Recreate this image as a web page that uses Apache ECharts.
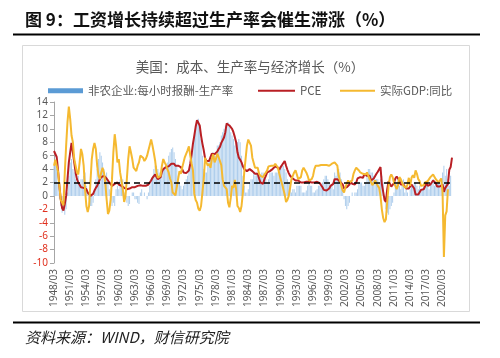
<!DOCTYPE html>
<html><head><meta charset="utf-8">
<script src="https://cdn.jsdelivr.net/npm/echarts@6/dist/echarts.min.js"></script>
<style>html,body{margin:0;padding:0;background:#fff}#c{width:500px;height:358px}</style>
</head><body><div id="c"></div>
<script>
// Quarter labels 1948/03 ... 2021/12
const startYear = 1948, endYear = 2021;
const quarterMonths = ['03', '06', '09', '12'];
const categories = [];
for (let y = startYear; y <= endYear; y++) for (const m of quarterMonths) categories.push(y + '/' + m);

const yTicks = { min: -10, max: 14, interval: 2 };

// 非农企业:每小时报酬-生产率 (quarterly, one row per year)
const ulcValues = [
  4.5, 5.0, 4.0, 2.0,
  -0.5, -1.5, -2.5, -2.0,
  -2.8, -2.0, 0.5, 3.0,
  5.0, 5.5, 4.0, 3.5,
  2.5, 2.0, 3.0, 2.0,
  2.5, 2.5, 3.0, 3.5,
  1.5, 0.5, -0.5, -1.5,
  -1.5, -1.0, 0.5, 2.5,
  4.0, 5.5, 6.5, 6.0,
  5.0, 4.0, 3.0, 3.5,
  2.5, 1.0, -1.0, -1.5,
  -1.0, -1.5, 1.0, 1.5,
  1.0, 2.5, 2.0, 2.5,
  0.5, -0.5, -1.0, -1.5,
  -1.2, 0.0, 0.5, 0.5,
  -0.5, -0.5, -1.0, -1.2,
  0.5, 1.0, 0.0, 0.5,
  0.0, -0.5, 0.5, 1.5,
  2.5, 3.0, 4.0, 4.5,
  4.5, 4.0, 3.5, 3.5,
  3.5, 4.0, 4.0, 4.5,
  5.0, 6.0, 6.5, 7.0,
  7.2, 6.5, 5.5, 4.5,
  3.0, 2.0, 1.5, 1.0,
  1.5, 2.0, 2.5, 3.0,
  4.0, 5.0, 6.5, 7.5,
  9.0, 10.0, 11.0, 11.5,
  10.5, 8.5, 6.0, 4.0,
  3.5, 3.5, 4.5, 5.5,
  6.0, 6.0, 6.5, 6.0,
  6.0, 7.5, 7.5, 8.0,
  9.0, 9.5, 10.0, 10.5,
  10.0, 11.0, 10.5, 9.5,
  9.0, 8.5, 7.5, 8.0,
  8.0, 8.5, 8.0, 6.0,
  3.0, 1.5, 0.5, 0.5,
  1.0, 2.0, 2.5, 2.5,
  3.5, 3.0, 3.5, 3.0,
  3.0, 3.0, 3.5, 3.5,
  2.5, 2.5, 2.0, 2.5,
  3.5, 3.5, 3.5, 3.0,
  3.5, 3.5, 3.5, 4.0,
  4.5, 4.5, 4.5, 4.0,
  3.5, 2.5, 2.0, 2.0,
  0.5, 1.0, 1.0, 0.5,
  1.5, 1.5, 1.5, 1.5,
  0.5, 0.5, 0.5, 0.8,
  1.5, 2.0, 1.5, 1.5,
  0.5, 0.5, 0.8, 1.0,
  1.5, 1.5, 1.5, 2.0,
  2.5, 3.0, 3.0, 2.5,
  2.0, 1.5, 1.5, 1.0,
  3.5, 3.0, 4.0, 4.0,
  3.5, 2.5, 1.5, -0.5,
  -1.5, -2.0, -1.5, -1.0,
  0.0, 0.5, 0.0, 0.5,
  0.5, 1.0, 2.0, 2.0,
  2.0, 1.5, 1.5, 2.0,
  3.0, 4.0, 4.0, 3.5,
  3.5, 3.0, 2.5, 2.5,
  2.5, 2.0, 2.5, 3.0,
  2.0, 0.0, -2.0, -2.5,
  -2.8, -2.0, -1.5, -1.0,
  0.5, 1.5, 2.0, 2.5,
  1.5, 1.0, 2.0, 2.5,
  0.5, 1.0, 0.5, 0.0,
  1.0, 1.5, 1.5, 2.0,
  2.0, 1.5, 1.0, 1.5,
  1.0, 1.0, 2.0, 1.5,
  2.0, 1.5, 1.0, 1.5,
  2.0, 2.5, 1.5, 2.0,
  2.0, 2.0, 2.0, 1.5,
  3.5, 4.5, 3.0, 4.0,
  2.5, 1.5, 3.0, null
];

// PCE (quarterly yoy)
const pceValues = [
  6.7, 6.5, 5.8, 3.8,
  1.5, -0.5, -1.8, -2.2,
  -1.2, 0.0, 2.5, 5.0,
  6.5, 7.9, 6.5, 5.0,
  3.5, 2.5, 2.0, 1.8,
  1.3, 1.3, 1.2, 1.3,
  1.0, 0.5, 0.3, 0.0,
  0.0, 0.3, 0.8, 1.2,
  1.5, 2.0, 2.5, 2.8,
  3.0, 3.0, 2.8, 2.6,
  2.5, 2.0, 1.8, 1.5,
  1.5, 1.8, 1.9, 2.0,
  1.7, 1.5, 1.5, 1.4,
  1.2, 1.0, 1.0, 1.0,
  1.1, 1.2, 1.3, 1.2,
  1.3, 1.2, 1.5, 1.6,
  1.6, 1.5, 1.5, 1.6,
  1.5, 1.7, 1.7, 1.8,
  2.3, 2.7, 2.9, 3.2,
  2.8, 2.5, 2.5, 2.8,
  3.6, 4.0, 4.2, 4.3,
  4.2, 4.4, 4.6, 4.8,
  4.9, 4.8, 4.5, 4.5,
  4.5, 4.4, 4.3, 4.0,
  3.5, 3.5, 3.4, 3.6,
  3.8, 4.8, 6.2, 7.8,
  9.0, 10.3, 11.3, 11.5,
  10.5, 9.0, 7.8, 6.8,
  5.6, 5.2, 5.0, 5.2,
  5.8, 6.3, 6.3, 6.2,
  6.2, 6.6, 7.0, 7.3,
  7.9, 8.3, 8.7, 9.5,
  10.8, 11.0, 10.5, 10.3,
  10.0, 9.5, 8.8, 8.0,
  6.5, 5.7, 5.4, 5.0,
  4.4, 4.0, 3.9, 3.7,
  3.8, 4.0, 4.0, 3.7,
  3.5, 3.3, 3.3, 3.3,
  2.6, 2.0, 1.8, 1.8,
  2.5, 3.0, 3.5, 3.7,
  3.7, 3.9, 4.0, 4.2,
  4.4, 4.6, 4.2, 3.9,
  4.3, 4.4, 4.9, 5.2,
  4.5, 3.9, 3.4, 3.0,
  2.8, 2.6, 2.4, 2.3,
  2.3, 2.3, 2.1, 2.0,
  1.9, 2.0, 2.1, 2.1,
  2.1, 2.1, 2.0, 2.0,
  2.0, 2.0, 2.0, 2.1,
  2.2, 1.9, 1.6, 1.3,
  0.9, 0.8, 0.8, 0.8,
  1.1, 1.5, 1.7, 1.8,
  2.5, 2.5, 2.5, 2.5,
  2.1, 1.9, 1.7, 1.1,
  1.1, 1.3, 1.4, 1.7,
  2.2, 1.8, 2.0, 1.7,
  2.0, 2.6, 2.6, 2.8,
  2.7, 2.7, 3.2, 3.2,
  3.0, 3.1, 3.0, 2.3,
  2.5, 2.6, 2.4, 3.3,
  3.6, 3.8, 4.3, 1.8,
  0.6, -0.6, -0.9, 1.0,
  2.2, 1.8, 1.4, 1.3,
  1.9, 2.6, 2.9, 2.7,
  2.3, 1.7, 1.5, 1.7,
  1.4, 1.1, 1.2, 1.1,
  1.3, 1.7, 1.5, 1.1,
  0.2, 0.2, 0.2, 0.4,
  0.9, 0.9, 1.0, 1.4,
  2.0, 1.5, 1.6, 1.7,
  1.9, 2.3, 2.1, 1.9,
  1.4, 1.5, 1.4, 1.5,
  1.7, 0.6, 1.2, 1.2,
  1.8, 3.9, 4.3, 5.7
];

// 实际GDP:同比 (quarterly yoy)
const gdpValues = [
  4.5, 5.4, 5.2, 3.6,
  1.5, -0.6, -0.5, -1.4,
  3.5, 7.5, 11.0, 13.3,
  11.5, 9.0, 8.0, 5.5,
  4.5, 3.5, 3.2, 5.0,
  7.0, 6.2, 4.5, 1.0,
  -1.5, -2.4, -1.5, 2.0,
  5.5, 7.0, 7.9, 7.0,
  4.5, 3.0, 2.5, 3.5,
  4.2, 3.5, 2.0, -0.5,
  -2.7, -2.2, -0.5, 2.5,
  6.5, 9.2, 7.5, 5.0,
  5.5, 3.5, 2.3, 1.0,
  -0.9, 0.0, 2.5, 5.5,
  7.4, 6.5, 5.5, 4.2,
  4.0, 3.7, 4.5, 5.0,
  6.0, 6.2, 5.7, 5.2,
  5.5, 6.0, 6.8, 7.6,
  8.4, 7.5, 6.4, 5.2,
  3.5, 2.7, 2.5, 3.0,
  4.5, 5.5, 5.0, 4.6,
  4.0, 3.5, 2.6, 2.0,
  0.5, 0.3, 0.1, 0.3,
  2.5, 3.7, 3.3, 4.2,
  5.0, 5.8, 6.0, 6.8,
  7.4, 6.0, 4.8, 3.8,
  0.3, -0.6, -1.0, -1.9,
  -2.2, -1.5, 0.5, 2.5,
  5.7, 5.0, 4.5, 4.8,
  4.2, 5.5, 6.2, 5.0,
  5.5, 6.3, 5.8, 6.0,
  4.6, 2.5, 1.5, 1.3,
  1.0, -1.0, -1.7, -0.3,
  1.5, 1.2, 2.4, 1.0,
  -1.5, -1.8, -2.4, -1.5,
  0.5, 3.5, 5.5, 7.5,
  8.4, 8.5, 7.5, 5.7,
  5.5, 4.2, 4.0, 4.2,
  3.3, 3.0, 3.2, 2.8,
  3.2, 3.5, 3.8, 4.4,
  4.4, 4.5, 4.3, 4.5,
  4.8, 4.6, 4.2, 3.3,
  2.5, 1.8, 1.0, 0.2,
  -0.9, -0.6, 0.0, 1.2,
  2.5, 3.0, 3.5, 3.8,
  3.2, 2.5, 2.3, 2.8,
  3.8, 4.2, 4.0, 3.5,
  3.0, 2.3, 2.5, 2.5,
  3.0, 4.0, 4.5, 4.6,
  4.5, 4.5, 4.6, 4.5,
  4.6, 4.5, 4.6, 4.8,
  4.5, 4.6, 4.8, 5.0,
  5.0, 5.2, 4.5, 3.0,
  2.3, 1.5, 0.8, 0.5,
  1.3, 1.8, 2.3, 2.0,
  1.8, 2.3, 3.3, 3.8,
  4.2, 4.0, 3.8, 3.5,
  3.5, 3.3, 3.5, 3.2,
  3.5, 3.0, 2.5, 2.6,
  1.6, 1.9, 2.3, 2.5,
  1.5, 1.2, 0.0, -2.0,
  -3.3, -3.9, -3.5, -0.8,
  1.5, 2.8, 3.2, 2.8,
  2.0, 1.5, 1.0, 1.6,
  2.8, 2.5, 2.5, 1.5,
  1.5, 1.2, 1.7, 2.7,
  1.5, 2.7, 3.1, 2.7,
  3.8, 3.3, 2.5, 2.2,
  1.5, 1.3, 1.6, 2.0,
  2.0, 2.2, 2.4, 2.8,
  3.0, 3.2, 3.1, 2.5,
  2.5, 2.0, 2.3, 2.6,
  0.6, -9.1, -2.9, -2.3,
  1.0, null, null, null
];

const referenceLevel = 2;
const seriesNames = ['非农企业:每小时报酬-生产率', 'PCE', '实际GDP:同比'];

const chart = echarts.init(document.getElementById('c'), null, { renderer: 'canvas' });
const cjk = '"Noto Sans CJK SC", "Noto Sans", sans-serif';
const legendText = { color: '#595959', fontSize: 11.5, fontFamily: cjk };

chart.setOption({
  animation: false,
  backgroundColor: '#fff',
  textStyle: { fontFamily: cjk },
  title: {
    text: '美国：成本、生产率与经济增长（%）',
    left: 'center', top: 60, padding: 0,
    textStyle: { fontSize: 13.5, fontWeight: 'normal', color: '#595959', fontFamily: cjk }
  },
  legend: [
    { left: 48, top: 85, padding: 0, itemWidth: 35, itemHeight: 5, textStyle: legendText,
      data: [{ name: seriesNames[0], icon: 'rect', itemStyle: { color: '#5b9bd5' } }] },
    { left: 258, top: 85, padding: 0, itemWidth: 37, itemHeight: 2, textStyle: legendText,
      data: [{ name: seriesNames[1], icon: 'rect', itemStyle: { color: '#b91f24' } }] },
    { left: 340, top: 85, padding: 0, itemWidth: 35, itemHeight: 2, textStyle: legendText,
      data: [{ name: seriesNames[2], icon: 'rect', itemStyle: { color: '#f5b930' } }] }
  ],
  grid: { left: 54, right: 48, top: 102, bottom: 95 },
  xAxis: {
    type: 'category', data: categories, boundaryGap: false,
    axisLine: { show: false }, axisTick: { show: false },
    axisLabel: { interval: 11, rotate: 90, fontSize: 10, color: '#595959', margin: 6, fontFamily: '"Noto Sans", sans-serif' }
  },
  yAxis: {
    type: 'value', min: yTicks.min, max: yTicks.max, interval: yTicks.interval,
    splitLine: { show: false },
    axisLine: { show: true, lineStyle: { color: '#a6a6a6' } },
    axisTick: { show: true, length: 4, lineStyle: { color: '#a6a6a6' } },
    axisLabel: {
      fontSize: 10, margin: 6, fontFamily: '"Noto Sans", sans-serif',
      formatter: v => (v < 0 ? '{n|' + v + '}' : '{p|' + v + '}'),
      rich: { n: { color: '#e0301e', fontSize: 10 }, p: { color: '#595959', fontSize: 10 } }
    }
  },
  series: [
    { name: seriesNames[0], type: 'bar', data: ulcValues, barCategoryGap: '35%',
      itemStyle: { color: '#adcdec' }, z: 1,
      markLine: { silent: true, symbol: 'none', label: { show: false },
        lineStyle: { color: '#000', type: [6, 4], width: 1.5 },
        data: [{ yAxis: referenceLevel }] } },
    { name: seriesNames[1], type: 'line', data: pceValues, symbol: 'none', z: 3,
      lineStyle: { color: '#b91f24', width: 2 }, itemStyle: { color: '#b91f24' } },
    { name: seriesNames[2], type: 'line', data: gdpValues, symbol: 'none', z: 4,
      lineStyle: { color: '#f5b930', width: 2 }, itemStyle: { color: '#f5b930' } }
  ],
  graphic: [
    { type: 'text', left: 25, top: 11, style: { text: '图 9：工资增长持续超过生产率会催生滞涨（%）', font: 'bold 17px "Noto Sans CJK SC", sans-serif', fill: '#111' } },
    { type: 'line', shape: { x1: 13, y1: 34.5, x2: 480, y2: 34.5 }, style: { stroke: '#000', lineWidth: 2 } },
    { type: 'rect', shape: { x: 22.5, y: 45.5, width: 447, height: 266 }, style: { fill: 'none', stroke: '#d9d9d9', lineWidth: 1 }, z: -1 },
    { type: 'line', shape: { x1: 13, y1: 322.5, x2: 480, y2: 322.5 }, style: { stroke: '#000', lineWidth: 2 } },
    { type: 'text', left: 25, top: 330, style: { text: '资料来源：WIND，财信研究院', font: 'italic 15px "Noto Sans CJK SC", sans-serif', fill: '#222' } }
  ]
});
</script>
</body></html>
